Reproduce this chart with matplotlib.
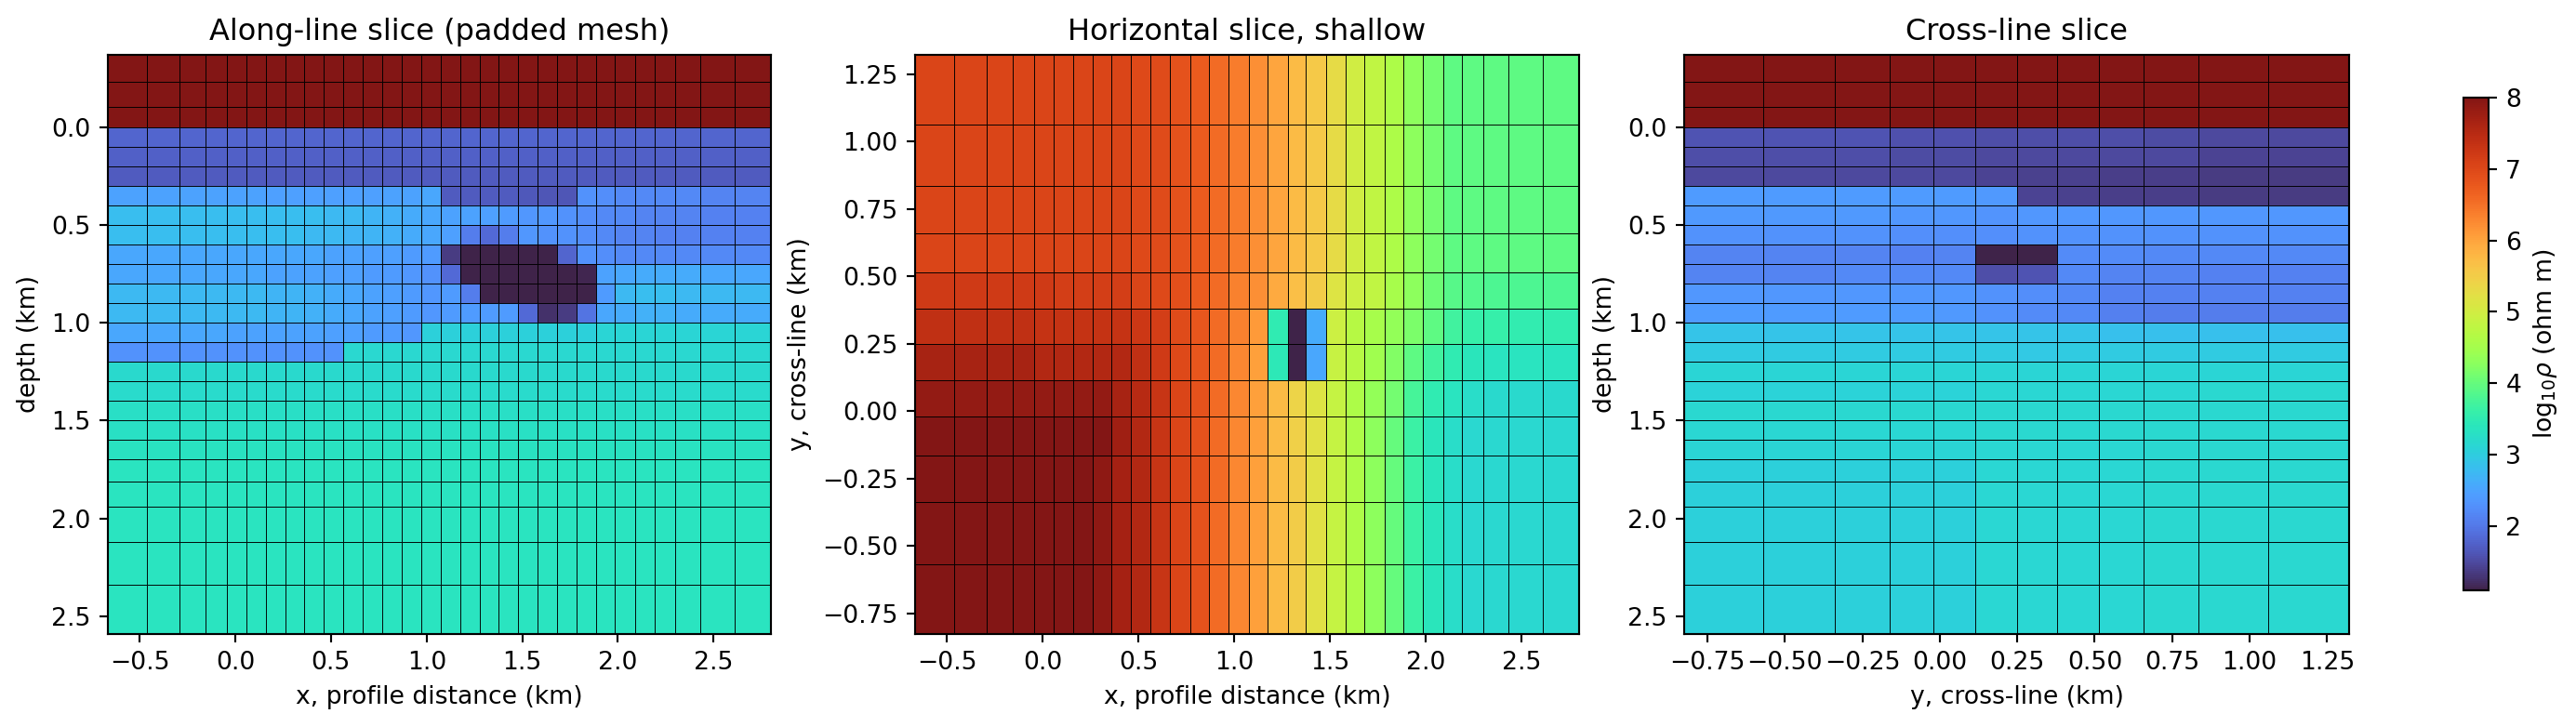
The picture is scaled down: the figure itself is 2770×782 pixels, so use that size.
"""Three resistivity slices through a padded mesh, shared turbo colour scale."""

import matplotlib
matplotlib.use("Agg")
import matplotlib.pyplot as plt

# mesh cell edges (km)
x_edges = [-0.665, -0.46, -0.29, -0.155, -0.045, 0.06, 0.16, 0.26, 0.36, 0.46, 0.565, 0.665, 0.77, 0.87, 0.97,
           1.075, 1.175, 1.28, 1.375, 1.48, 1.58, 1.68, 1.785, 1.885, 1.985, 2.09, 2.19, 2.30, 2.43, 2.61, 2.80]
y_edges = [-0.825, -0.569, -0.338, -0.163, -0.02, 0.114, 0.248, 0.38, 0.513, 0.658, 0.834, 1.061, 1.321]
z_edges = [-0.37, -0.232, -0.102, 0.0, 0.1, 0.2, 0.3, 0.4, 0.5, 0.6, 0.7, 0.8, 0.9, 1.0, 1.1, 1.2, 1.3, 1.4, 1.5,
           1.6, 1.7, 1.81, 1.94, 2.12, 2.34, 2.59]

# log10 resistivity, along-line slice: one list per depth row, top to bottom
along_line = [
    [8.0] * 30,
    [8.0] * 30,
    [8.0] * 30,
    [1.78] * 30,
    [1.73] * 30,
    [1.68] * 30,
    [2.5, 2.5, 2.5, 2.5, 2.5, 2.5, 2.45, 2.45, 2.45, 2.45, 2.45, 2.45, 2.5, 2.5, 2.55,
     1.68, 1.68, 1.68, 1.68, 1.65, 1.62, 1.62, 2.3, 2.25, 2.2, 2.2, 2.2, 2.2, 2.15, 2.15],
    [2.8, 2.8, 2.8, 2.8, 2.8, 2.8, 2.8, 2.8, 2.8, 2.75, 2.75, 2.7, 2.65, 2.6, 2.55,
     2.5, 2.5, 2.45, 2.4, 2.35, 2.35, 2.3, 2.25, 2.2, 2.2, 2.15, 2.15, 2.15, 2.1, 2.1],
    [2.8, 2.8, 2.8, 2.8, 2.8, 2.8, 2.8, 2.8, 2.75, 2.75, 2.7, 2.7, 2.65, 2.6, 2.55,
     2.45, 2.05, 1.85, 2.05, 2.35, 2.3, 2.3, 2.25, 2.2, 2.15, 2.15, 2.1, 2.1, 2.1, 2.1],
    [2.55, 2.55, 2.55, 2.55, 2.55, 2.55, 2.55, 2.55, 2.55, 2.5, 2.5, 2.45, 2.45, 2.4, 2.4,
     1.35, 1.1, 1.1, 1.1, 1.1, 1.1, 1.8, 2.3, 2.25, 2.2, 2.2, 2.2, 2.2, 2.2, 2.2],
    [2.55, 2.55, 2.55, 2.55, 2.55, 2.55, 2.5, 2.5, 2.5, 2.45, 2.45, 2.4, 2.4, 2.35, 2.3,
     1.85, 1.1, 1.1, 1.1, 1.1, 1.1, 1.1, 1.15, 2.5, 2.55, 2.6, 2.6, 2.6, 2.55, 2.55],
    [2.75, 2.75, 2.75, 2.75, 2.75, 2.75, 2.7, 2.7, 2.65, 2.6, 2.55, 2.5, 2.45, 2.4, 2.35,
     2.4, 2.05, 1.1, 1.1, 1.1, 1.1, 1.1, 1.1, 2.4, 2.75, 2.8, 2.8, 2.75, 2.75, 2.75],
    [2.75, 2.75, 2.75, 2.75, 2.75, 2.75, 2.7, 2.7, 2.65, 2.6, 2.55, 2.5, 2.45, 2.4, 2.35,
     2.4, 2.4, 2.4, 2.4, 1.85, 1.25, 1.35, 1.95, 2.55, 2.6, 2.65, 2.65, 2.6, 2.6, 2.6],
    [2.55, 2.55, 2.55, 2.55, 2.5, 2.5, 2.5, 2.5, 2.5, 2.45, 2.45, 2.4, 2.4, 2.35,
     3.05, 3.05, 3.05, 3.05, 3.05, 3.05, 3.05, 3.05, 3.05, 3.1, 3.1, 3.1, 3.1, 3.1, 3.1, 3.1],
    [2.3, 2.3, 2.3, 2.3, 2.3, 2.3, 2.3, 2.3, 2.3, 2.3,
     3.15, 3.15, 3.15, 3.15, 3.15, 3.15, 3.15, 3.15, 3.15, 3.15, 3.15, 3.15, 3.15, 3.15, 3.15, 3.15, 3.15, 3.15, 3.15, 3.15],
    [3.18] * 30,
    [3.22] * 30,
    [3.27] * 30,
    [3.3] * 30,
    [3.33] * 30,
    [3.35] * 30,
    [3.35] * 30,
    [3.35] * 30,
    [3.35] * 30,
    [3.35] * 30,
]

# horizontal slice: one list per y row, north to south
horizontal = [
    [7.05, 7.05, 7.05, 7.05, 7.05, 7.05, 7.05, 7.05, 7.05, 7.0, 6.95, 6.85, 6.75, 6.55, 6.4, 6.2, 6.0, 5.75, 5.55, 5.3, 5.0, 4.8, 4.6, 4.3, 4.1, 3.95, 3.95, 3.95, 3.95, 3.95],
    [7.05, 7.05, 7.05, 7.05, 7.05, 7.05, 7.05, 7.05, 7.05, 7.0, 6.95, 6.85, 6.75, 6.55, 6.4, 6.2, 6.0, 5.75, 5.55, 5.3, 5.0, 4.8, 4.6, 4.3, 4.1, 3.95, 3.95, 3.95, 3.95, 3.95],
    [7.05, 7.05, 7.05, 7.05, 7.05, 7.05, 7.05, 7.05, 7.05, 7.0, 6.95, 6.85, 6.75, 6.55, 6.4, 6.2, 6.0, 5.75, 5.55, 5.3, 5.0, 4.8, 4.6, 4.3, 4.1, 3.95, 3.95, 3.95, 3.95, 3.95],
    [7.05, 7.05, 7.05, 7.05, 7.05, 7.05, 7.05, 7.05, 7.05, 7.0, 6.95, 6.85, 6.75, 6.55, 6.4, 6.2, 6.0, 5.75, 5.55, 5.3, 5.0, 4.8, 4.6, 4.3, 4.1, 3.95, 3.95, 3.95, 3.95, 3.95],
    [7.2, 7.2, 7.2, 7.2, 7.2, 7.15, 7.15, 7.15, 7.15, 7.05, 7.0, 6.9, 6.75, 6.55, 6.35, 6.2, 5.95, 5.7, 5.5, 5.15, 4.95, 4.8, 4.55, 4.3, 4.05, 3.9, 3.85, 3.8, 3.8, 3.8],
    [7.4, 7.4, 7.4, 7.4, 7.35, 7.35, 7.35, 7.35, 7.35, 7.25, 7.15, 6.95, 6.8, 6.55, 6.35, 6.1, 3.5, 1.1, 2.6, 4.95, 4.7, 4.55, 4.35, 4.15, 3.95, 3.7, 3.6, 3.6, 3.55, 3.55],
    [7.65, 7.65, 7.65, 7.65, 7.55, 7.55, 7.55, 7.55, 7.55, 7.4, 7.2, 7.0, 6.8, 6.55, 6.3, 6.05, 3.45, 1.1, 2.55, 4.9, 4.7, 4.45, 4.2, 3.95, 3.7, 3.5, 3.4, 3.35, 3.35, 3.35],
    [7.85, 7.85, 7.85, 7.85, 7.85, 7.85, 7.85, 7.85, 7.65, 7.5, 7.3, 7.05, 6.85, 6.55, 6.3, 6.05, 5.75, 5.4, 5.15, 4.85, 4.6, 4.35, 4.1, 3.75, 3.5, 3.35, 3.25, 3.2, 3.2, 3.2],
    [8.0, 8.0, 8.0, 8.0, 8.0, 8.0, 8.0, 8.0, 7.75, 7.55, 7.3, 7.05, 6.85, 6.55, 6.3, 6.05, 5.75, 5.45, 5.2, 4.85, 4.6, 4.3, 4.0, 3.65, 3.4, 3.25, 3.17, 3.17, 3.17, 3.17],
    [8.0, 8.0, 8.0, 8.0, 8.0, 8.0, 8.0, 7.9, 7.7, 7.55, 7.3, 7.05, 6.85, 6.55, 6.3, 6.05, 5.75, 5.5, 5.2, 4.85, 4.6, 4.3, 4.0, 3.65, 3.4, 3.25, 3.17, 3.15, 3.15, 3.15],
    [8.0, 8.0, 8.0, 8.0, 8.0, 8.0, 8.0, 7.9, 7.7, 7.55, 7.3, 7.05, 6.85, 6.55, 6.3, 6.05, 5.75, 5.5, 5.2, 4.85, 4.6, 4.3, 4.0, 3.65, 3.4, 3.25, 3.17, 3.15, 3.15, 3.15],
    [8.0, 8.0, 8.0, 8.0, 8.0, 8.0, 8.0, 7.9, 7.7, 7.55, 7.3, 7.05, 6.85, 6.55, 6.3, 6.05, 5.75, 5.5, 5.2, 4.85, 4.6, 4.3, 4.0, 3.65, 3.4, 3.25, 3.17, 3.15, 3.15, 3.15],
]

# cross-line slice: one list per depth row, top to bottom
cross_line = [
    [8.0] * 12,
    [8.0] * 12,
    [8.0] * 12,
    [1.6, 1.6, 1.6, 1.58, 1.58, 1.55, 1.55, 1.55, 1.55, 1.52, 1.5, 1.5],
    [1.55, 1.55, 1.55, 1.52, 1.52, 1.5, 1.5, 1.5, 1.48, 1.48, 1.45, 1.45],
    [1.5, 1.5, 1.5, 1.48, 1.48, 1.45, 1.42, 1.4, 1.38, 1.38, 1.35, 1.35],
    [2.42, 2.42, 2.42, 2.4, 2.4, 2.38, 1.45, 1.4, 1.38, 1.38, 1.35, 1.35],
    [2.38, 2.38, 2.38, 2.35, 2.35, 2.32, 2.35, 2.35, 2.35, 2.35, 2.35, 2.35],
    [2.3, 2.3, 2.3, 2.28, 2.28, 2.28, 2.3, 2.3, 2.3, 2.3, 2.3, 2.3],
    [2.15, 2.15, 2.15, 2.12, 2.15, 1.1, 1.1, 2.22, 2.22, 2.2, 2.2, 2.2],
    [2.15, 2.15, 2.18, 2.18, 2.18, 1.55, 1.6, 2.2, 2.15, 2.15, 2.12, 2.12],
    [2.35, 2.35, 2.35, 2.35, 2.35, 2.3, 2.25, 2.2, 2.12, 2.1, 2.1, 2.1],
    [2.42, 2.42, 2.42, 2.4, 2.38, 2.3, 2.22, 2.18, 2.08, 2.05, 2.05, 2.05],
    [2.88, 2.88, 2.88, 2.88, 2.88, 2.88, 2.88, 2.88, 2.85, 2.85, 2.85, 2.85],
    [2.97, 2.97, 2.97, 2.97, 2.97, 2.97, 2.95, 2.97, 2.97, 2.97, 2.97, 2.97],
    [3.1, 3.1, 3.1, 3.1, 3.1, 3.1, 3.1, 3.1, 3.12, 3.12, 3.12, 3.12],
    [3.07, 3.07, 3.07, 3.07, 3.07, 3.13, 3.13, 3.13, 3.13, 3.13, 3.15, 3.15],
    [3.15, 3.15, 3.15, 3.15, 3.15, 3.15, 3.15, 3.15, 3.15, 3.15, 3.15, 3.15],
    [3.13, 3.13, 3.13, 3.13, 3.13, 3.15, 3.15, 3.15, 3.15, 3.15, 3.15, 3.15],
    [3.1, 3.1, 3.1, 3.1, 3.1, 3.13, 3.13, 3.13, 3.13, 3.15, 3.15, 3.15],
    [3.05, 3.05, 3.05, 3.05, 3.05, 3.13, 3.13, 3.13, 3.13, 3.15, 3.15, 3.15],
    [3.05, 3.05, 3.05, 3.05, 3.05, 3.13, 3.13, 3.13, 3.13, 3.15, 3.15, 3.15],
    [3.05, 3.05, 3.05, 3.05, 3.05, 3.13, 3.13, 3.13, 3.13, 3.15, 3.15, 3.15],
    [3.05, 3.05, 3.05, 3.05, 3.05, 3.13, 3.13, 3.13, 3.13, 3.15, 3.15, 3.15],
    [3.05, 3.05, 3.05, 3.05, 3.05, 3.13, 3.13, 3.13, 3.13, 3.15, 3.15, 3.15],
]

y_ticks_cross = [-0.75, -0.5, -0.25, 0.0, 0.25, 0.5, 0.75, 1.0, 1.25]
cbar_ticks = [2, 3, 4, 5, 6, 7, 8]

W, H = 2770, 782
DPI = 192
VMIN, VMAX = 1.1, 8.0


def add_panel(left, right, top, bottom):
    return fig.add_axes([left / W, 1 - bottom / H, (right - left) / W, (bottom - top) / H])


def draw(ax, xe, ye, vals):
    return ax.pcolormesh(xe, ye, vals, cmap="turbo", vmin=VMIN, vmax=VMAX, alpha=0.93,
                         edgecolors="k", linewidth=0.25)


fig = plt.figure(figsize=(W / DPI, H / DPI), dpi=DPI)

ax1 = add_panel(116.3, 829, 59, 681.7)
draw(ax1, x_edges, z_edges, along_line)
ax1.invert_yaxis()
ax1.set_title("Along-line slice (padded mesh)", fontsize=12)
ax1.set_xlabel("x, profile distance (km)")
ax1.set_ylabel("depth (km)")

ax2 = add_panel(984, 1698, 59, 681.7)
mesh = draw(ax2, x_edges, y_edges[::-1], horizontal)
ax2.set_ylim(y_edges[0], y_edges[-1])
ax2.set_title("Horizontal slice, shallow", fontsize=12)
ax2.set_xlabel("x, profile distance (km)")
ax2.set_ylabel("y, cross-line (km)")

ax3 = add_panel(1811, 2526, 59, 681.7)
draw(ax3, y_edges, z_edges, cross_line)
ax3.invert_yaxis()
ax3.set_xticks(y_ticks_cross)
ax3.set_title("Cross-line slice", fontsize=12)
ax3.set_xlabel("y, cross-line (km)")
ax3.set_ylabel("depth (km)")

cax = add_panel(2649, 2675.7, 105, 635)
cbar = fig.colorbar(mesh, cax=cax, ticks=cbar_ticks)
cbar.set_label(r"log$_{10}\rho$ (ohm m)")

fig.savefig("out.png", dpi=DPI)
